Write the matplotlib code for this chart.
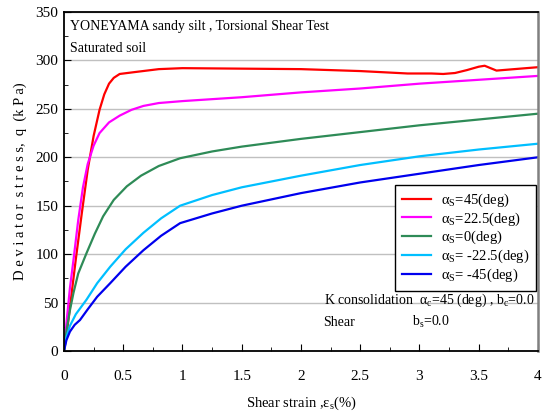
import matplotlib.pyplot as plt
from matplotlib.ticker import MultipleLocator

plt.rcParams['font.family'] = ['Liberation Serif', 'DejaVu Serif']
plt.rcParams['mathtext.fontset'] = 'custom'
plt.rcParams['mathtext.rm'] = 'Liberation Serif'
plt.rcParams['mathtext.it'] = 'Liberation Serif'

# strain (%) / deviator stress (kPa)
red_x = [0, 0.03, 0.06, 0.1, 0.15, 0.2, 0.25, 0.3, 0.34, 0.38, 0.42, 0.47, 0.6, 0.8, 1.0,
         1.5, 2.0, 2.5, 2.9, 3.1, 3.2, 3.3, 3.4, 3.5, 3.55, 3.6, 3.65, 3.8, 4.0]
red_q = [0, 25, 55, 95, 142, 187, 222, 249, 265, 276, 282, 286, 288, 291, 292,
         291.5, 291, 289, 286.5, 286.5, 286, 287, 290, 293.5, 294.5, 292, 289.5, 291, 293]

mag_x = [0, 0.02, 0.05, 0.08, 0.12, 0.16, 0.2, 0.25, 0.3, 0.38, 0.47, 0.57, 0.67, 0.8,
         1.0, 1.5, 2.0, 2.5, 3.0, 3.5, 4.0]
mag_q = [0, 28, 65, 94, 135, 169, 193, 212, 225, 236, 243, 249, 253, 256,
         258, 262, 267, 271, 276, 280, 284]

grn_x = [0, 0.02, 0.05, 0.08, 0.12, 0.19, 0.26, 0.33, 0.42, 0.53, 0.65, 0.8, 0.98,
         1.25, 1.5, 2.0, 2.5, 3.0, 3.5, 4.0]
grn_q = [0, 20, 42, 60, 80, 101, 121, 139, 156, 170, 181, 191, 199,
         206, 211, 219, 226, 233, 239, 245]

cyn_x = [0, 0.02, 0.05, 0.1, 0.19, 0.28, 0.39, 0.52, 0.67, 0.82, 0.98, 1.25, 1.5,
         2.0, 2.5, 3.0, 3.5, 4.0]
cyn_q = [0, 14, 26, 38, 53, 70, 87, 105, 122, 137, 150, 161, 169,
         181, 192, 201, 208, 214]

blu_x = [0, 0.02, 0.05, 0.09, 0.135, 0.2, 0.28, 0.39, 0.52, 0.67, 0.82, 0.98, 1.25,
         1.5, 2.0, 2.5, 3.0, 3.5, 4.0]
blu_q = [0, 11, 20, 27, 32, 43, 56, 70, 87, 104, 119, 132, 142,
         150, 163, 174, 183, 192, 200]

labels = ['α$_\\mathrm{S}$=45(deg)', 'α$_\\mathrm{S}$=22.5(deg)', 'α$_\\mathrm{S}$=0(deg)',
          'α$_\\mathrm{S}$= -22.5(deg)', 'α$_\\mathrm{S}$= -45(deg)']
colors = ['#ff0000', '#ff00ff', '#2e8b57', '#00bfff', '#0000ee']

fig = plt.figure(figsize=(5.47, 4.19), dpi=100)
ax = fig.add_axes([0.117, 0.1623, 0.8665, 0.8091])

series = [(red_x, red_q), (mag_x, mag_q), (grn_x, grn_q), (cyn_x, cyn_q), (blu_x, blu_q)]
for (xs, qs), c, lab in zip(series, colors, labels):
    ax.plot(xs, qs, color=c, lw=1.6, label=lab)

ax.set_xlim(0, 4)
ax.set_ylim(0, 350)
ax.xaxis.set_major_locator(MultipleLocator(0.5))
ax.xaxis.set_minor_locator(MultipleLocator(0.25))
ax.yaxis.set_major_locator(MultipleLocator(50))
ax.yaxis.set_minor_locator(MultipleLocator(25))
ax.set_xticks([0, 0.5, 1, 1.5, 2, 2.5, 3, 3.5, 4])
ax.set_xticklabels(['0', '0.5', '1', '1.5', '2', '2.5', '3', '3.5', '4'])
ax.tick_params(which='both', direction='in', labelsize=11)
ax.tick_params(axis='x', which='major', length=5, pad=14)
ax.tick_params(axis='x', which='minor', length=3)
ax.tick_params(axis='y', which='major', length=5, pad=4)
ax.tick_params(axis='y', which='minor', length=3)
ax.grid(axis='y', which='major', color='#c0c0c0', lw=1)
ax.set_axisbelow(True)

for s in ['left', 'bottom', 'top']:
    ax.spines[s].set_linewidth(1.3)
ax.spines['right'].set_color('#808080')
ax.spines['right'].set_linewidth(1.8)

ax.set_xlabel('Shear strain ,ε$_\\mathrm{s}$(%)', fontsize=10.5, labelpad=8)
ax.set_ylabel('D e v i a t o r  s t r e s s,  q  (k P a)', fontsize=10.5, labelpad=6)

ax.text(0.013, 0.977, 'YONEYAMA sandy silt , Torsional Shear Test', transform=ax.transAxes,
        fontsize=10, va='top')
ax.text(0.013, 0.91, 'Saturated soil', transform=ax.transAxes, fontsize=10, va='top')
ax.text(2.19, 49, 'K consolidation  α$_\\mathrm{c}$=45 (deg) , b$_\\mathrm{c}$=0.0', fontsize=10)
ax.text(2.19, 26, 'Shear', fontsize=10)
ax.text(2.94, 26, 'b$_\\mathrm{s}$=0.0', fontsize=10)

leg = ax.legend(loc='upper right', bbox_to_anchor=(0.996, 0.49), borderaxespad=0,
                fontsize=10.5, fancybox=False, edgecolor='black', framealpha=1,
                handlelength=2.0, labelspacing=0.1, borderpad=0.45, handletextpad=0.7)
leg.get_frame().set_linewidth(1.0)

fig.savefig('out.png', dpi=100)
